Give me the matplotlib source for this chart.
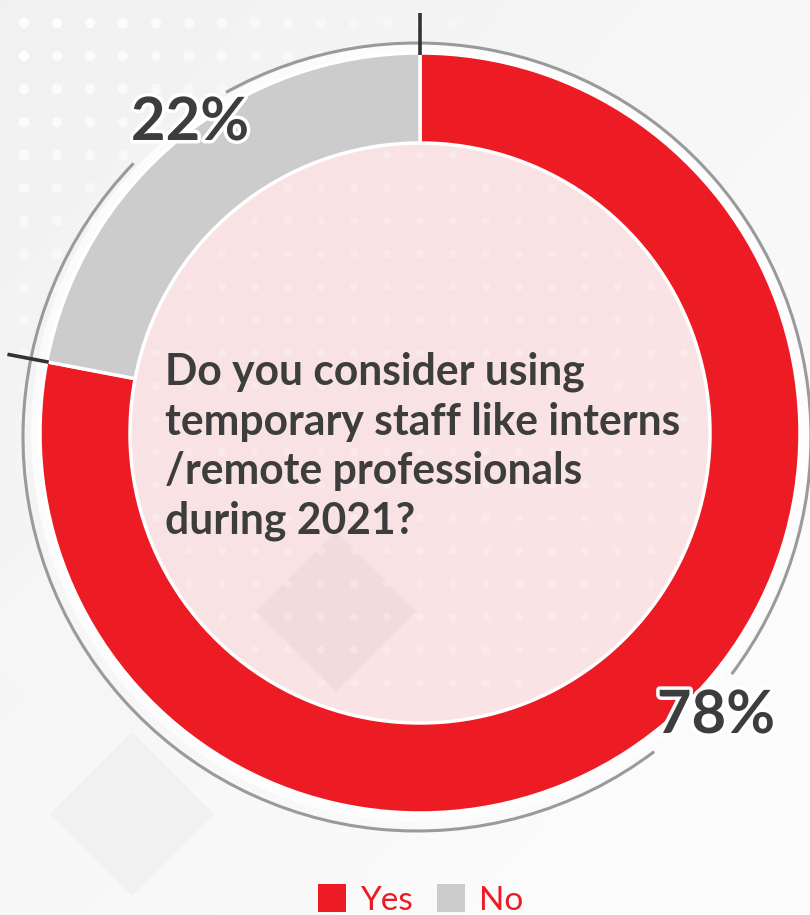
import numpy as np
import matplotlib.pyplot as plt
from matplotlib.patches import Circle, Arc, Rectangle, Polygon
import matplotlib.patheffects as pe

# Survey answers
labels = ["Yes", "No"]
shares = [78, 22]
colors = ["#ed1c24", "#cccccc"]
question = [
    "Do you consider using",
    "temporary staff like interns",
    "/remote professionals",
    "during 2021?",
]

W, H = 810, 915
fig = plt.figure(figsize=(W / 100, H / 100), dpi=100)
ax = fig.add_axes([0, 0, 1, 1])

# soft grey background, lighter toward the bottom right
xx, yy = np.meshgrid(np.linspace(0, 1, 200), np.linspace(0, 1, 200))
shade = 0.945 + 0.04 * np.clip((xx + yy) / 1.6, 0, 1)
ax.imshow(np.dstack([shade] * 3), extent=(0, W, 0, H), origin="upper",
          zorder=0, interpolation="bilinear")

# faint diamonds in the backdrop
def diamond(x, y, h, color, z):
    ax.add_patch(Polygon([(x - h, y), (x, y + h), (x + h, y), (x, y - h)],
                         closed=True, fc=color, ec="none", zorder=z))

diamond(132, H - 814, 82, "#f1f1f1", 0.2)
diamond(60, H - 640, 90, "#f6f6f6", 0.2)

# white dot grid fading out from the top left corner
for gx in np.arange(24, 480, 33):
    for gy in np.arange(23, 480, 33):
        a = 1 - (gx / 470 + gy / 430) * 0.75
        if a > 0.05:
            ax.add_patch(Circle((gx, H - gy), 5.2, fc="white", ec="none",
                                alpha=min(a, 0.95), zorder=0.3))

cx, cy = 420, 482
R, ring = 380, 90

# white halo behind the ring
ax.add_patch(Circle((cx, cy), R + 9, fc="white", ec="none", alpha=0.75, zorder=0.8))

# pale inner disc
ax.add_patch(Circle((cx, cy), R - ring, fc="#f9e1e3", ec="none", alpha=0.93, zorder=1.5))
diamond(336, H - 611, 80, "#f2dbdd", 1.6)
for gx in np.arange(156, 700, 33):
    for gy in np.arange(155, 740, 33):
        if np.hypot(gx - cx, (H - gy) - cy) < R - ring - 8:
            ax.add_patch(Circle((gx, H - gy), 4.0, fc="white", ec="none",
                                alpha=0.25, zorder=1.7))

wedges, _ = ax.pie(shares, colors=colors, startangle=90, counterclock=False,
                   radius=R, center=(cx, cy), frame=True,
                   wedgeprops=dict(width=ring, edgecolor="white", linewidth=2.5))
for wdg in wedges:
    wdg.set_zorder(2)

# thin grey outline around the ring, broken behind the percentages
gcx, gcy, gr = 417, 478, 394
for t1, t2 in [(-37, 119), (136, 307)]:
    ax.add_patch(Arc((gcx, gcy), 2 * gr, 2 * gr, theta1=t1, theta2=t2,
                     color="#9a9a9a", lw=2.2, zorder=2.5))

# dark ticks on the slice boundaries
bounds = 90 - 360 * np.concatenate([[0], np.cumsum(shares)[:-1]]) / sum(shares)
for b in bounds:
    t = np.deg2rad(b)
    ax.plot([cx + (R - 2) * np.cos(t), cx + (R + 40) * np.cos(t)],
            [cy + (R - 2) * np.sin(t), cy + (R + 40) * np.sin(t)],
            color="#333333", lw=2.6, solid_capstyle="butt", zorder=3)

stroke = [pe.withStroke(linewidth=5, foreground="white")]
pct_pos = {"Yes": (716, H - 733), "No": (190, H - 140)}
for lab, v in zip(labels, shares):
    px, py = pct_pos[lab]
    ax.text(px, py, f"{v}%", ha="center", va="baseline", fontsize=43,
            fontfamily="Lato", fontweight="bold", color="#3d3d3d",
            path_effects=stroke, zorder=4)

for i, line in enumerate(question):
    ax.text(165, H - 385 - 49.5 * i, line, ha="left", va="baseline",
            fontsize=30.7, fontfamily="Lato", fontweight="bold",
            color="#3d3d3d", zorder=4)

# legend
leg_x = [318, 437]
for lab, col, lx in zip(labels, colors, leg_x):
    ax.add_patch(Rectangle((lx, H - 912), 28, 28, fc=col, ec="none", zorder=4))
    ax.text(lx + 42, H - 910, lab, ha="left", va="baseline", fontsize=24,
            fontfamily="Lato", color="#ed1c24", zorder=4)

ax.set_xlim(0, W)
ax.set_ylim(0, H)
ax.set_aspect("equal")
ax.axis("off")
fig.savefig("out.png", dpi=100)
